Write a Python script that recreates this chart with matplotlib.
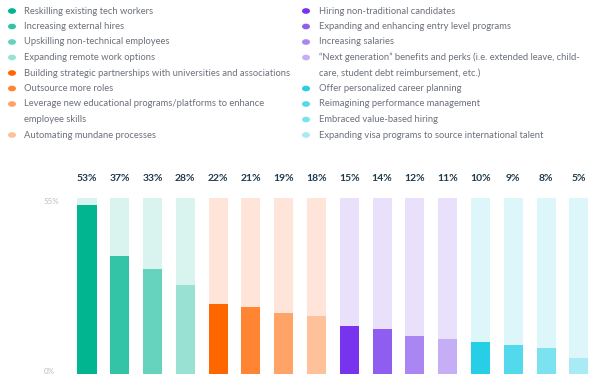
import matplotlib.pyplot as plt

# Data
labels = [
    "Reskilling existing tech workers",
    "Increasing external hires",
    "Upskilling non-technical employees",
    "Expanding remote work options",
    "Building strategic partnerships with universities and associations",
    "Outsource more roles",
    "Leverage new educational programs/platforms to enhance\nemployee skills",
    "Automating mundane processes",
    "Hiring non-traditional candidates",
    "Expanding and enhancing entry level programs",
    "Increasing salaries",
    "\u201cNext generation\u201d benefits and perks (i.e. extended leave, child-\ncare, student debt reimbursement, etc.)",
    "Offer personalized career planning",
    "Reimagining performance management",
    "Embraced value-based hiring",
    "Expanding visa programs to source international talent",
]
values = [53, 37, 33, 28, 22, 21, 19, 18, 15, 14, 12, 11, 10, 9, 8, 5]
max_value = 55

colors = [
    "#00b58f", "#33c4a8", "#66d3be", "#99e2d3",
    "#ff6600", "#ff8533", "#ffa366", "#ffc199",
    "#7733ee", "#8f5ef0", "#aa86f3", "#c6aef6",
    "#26cfe6", "#52d9ec", "#7de2f0", "#a8ebf5",
]
bg_colors = ["#d9f3ee"] * 4 + ["#ffe5d9"] * 4 + ["#e9e0fb"] * 4 + ["#ddf6fa"] * 4

plt.rcParams['font.family'] = ['Lato', 'DejaVu Sans']

W, H = 600, 385
fig = plt.figure(figsize=(W / 100, H / 100), dpi=100)

# axes placed in pixel terms
x0, x1 = 70.6, 595.2
y_top, y_bot = 198.3, 374.0
ax = fig.add_axes([x0 / W, 1 - y_bot / H, (x1 - x0) / W, (y_bot - y_top) / H])

xs = range(len(values))
ax.bar(xs, [max_value] * len(values), width=0.58, color=bg_colors, zorder=1)
ax.bar(xs, values, width=0.58, color=colors, zorder=2)
for x, v in zip(xs, values):
    ax.annotate(f"{v}%", (x, max_value), xytext=(0, 14), textcoords="offset points",
                ha="center", va="center", fontsize=7.5, fontweight="bold",
                color="#1e3a4c", annotation_clip=False)

ax.set_xlim(-0.5, len(values) - 0.5)
ax.set_ylim(0, max_value)
ax.axis("off")
fig.text(44 / W, 1 - 202 / H, "55%", fontsize=5.8, color="#b8bec6", ha="left", va="center")
fig.text(44 / W, 1 - 371 / H, "0%", fontsize=5.8, color="#b8bec6", ha="left", va="center")

# Legend, two columns of 8 items
row_step = 15.5
for col in range(2):
    line = 0
    cx = 12 if col == 0 else 306
    tx = 24 if col == 0 else 319
    for i in range(col * 8, col * 8 + 8):
        y = 11 + line * row_step
        fig.patches.append(plt.Circle((cx / W, 1 - y / H), 3.3 / W, transform=fig.transFigure,
                                      color=colors[i], figure=fig))
        for part in labels[i].split("\n"):
            fig.text(tx / W, 1 - (11 + line * row_step) / H, part, fontsize=6.75,
                     color="#6b7079", ha="left", va="center")
            line += 1

fig.savefig("out.png", dpi=100)
